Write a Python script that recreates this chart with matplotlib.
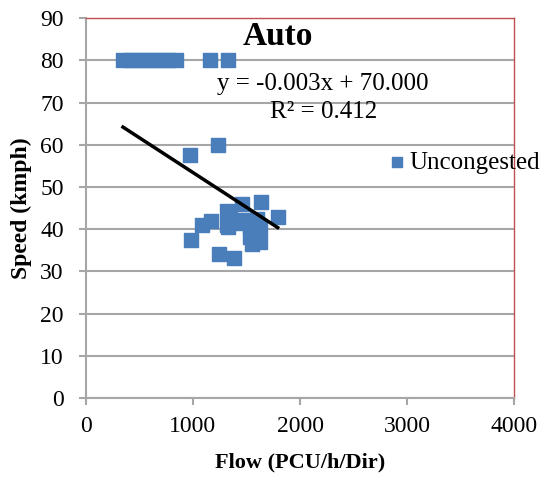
import numpy as np
import matplotlib.pyplot as plt

plt.rcParams['font.family'] = ['Liberation Serif', 'DejaVu Serif']

# uncongested observations (flow, speed)
flow = [350, 420, 490, 560, 630, 700, 770, 840, 1160, 1327,
        972, 1230, 1455, 1636, 1795, 1315, 1081, 1168, 1315, 1330,
        1502, 1533, 1626, 1533, 1626, 1548, 981, 1246, 1383, 1430,
        1470, 1580, 1400, 1600, 1350]
speed = [80, 80, 80, 80, 80, 80, 80, 80, 80, 80,
         57.6, 59.9, 46, 46.5, 42.9, 44.4, 41.1, 42, 41, 40.5,
         41.8, 40.6, 40.6, 38.2, 37, 36.6, 37.4, 34.1, 33.3, 42,
         42.3, 39.5, 41.5, 42.5, 43]

# trendline end points as drawn
trend_x = [346, 1791]
trend_y = [64.2, 40.4]

fig = plt.figure(figsize=(5.44, 4.79), dpi=100)
ax = fig.add_axes([0.158, 0.169, 0.787, 0.793])

ax.set_xlim(0, 4000)
ax.set_ylim(0, 90)
ax.set_xticks([0, 1000, 2000, 3000, 4000])
ax.set_yticks(np.arange(0, 91, 10))

ax.grid(axis='y', color='#a6a6a6', linewidth=1.5)
ax.set_axisbelow(True)

ax.scatter(flow, speed, marker='s', s=110, color='#4a7ebb', label='Uncongested', zorder=3)
ax.plot(trend_x, trend_y, color='black', linewidth=2.5, zorder=4)

for s in ['left', 'bottom']:
    ax.spines[s].set_color('#a6a6a6')
    ax.spines[s].set_linewidth(1.5)
for s in ['top', 'right']:
    ax.spines[s].set_color('#c0504d')
    ax.spines[s].set_linewidth(1.0)

ax.tick_params(axis='both', colors='#a6a6a6', length=5, width=1.5, labelsize=17, labelcolor='black')
ax.tick_params(axis='x', pad=8)
ax.tick_params(axis='y', pad=11)

ax.text(0.449, 0.929, 'Auto', transform=ax.transAxes, ha='center', va='baseline',
        fontsize=24, fontweight='bold')
ax.text(0.554, 0.826, 'y = -0.003x + 70.000', transform=ax.transAxes,
        ha='center', va='center', fontsize=18)
ax.text(0.554, 0.753, 'R² = 0.412', transform=ax.transAxes,
        ha='center', va='center', fontsize=18)

ax.set_xlabel('Flow (PCU/h/Dir)', fontsize=16, fontweight='bold', labelpad=11)
ax.set_ylabel('Speed (kmph)', fontsize=17, fontweight='bold', labelpad=6)

ax.legend(loc='center left', bbox_to_anchor=(0.71, 0.62), frameon=False,
          fontsize=18, handlelength=0.6, handletextpad=0.2, borderpad=0,
          borderaxespad=0, markerscale=0.75)

fig.savefig('out.png', dpi=100)
